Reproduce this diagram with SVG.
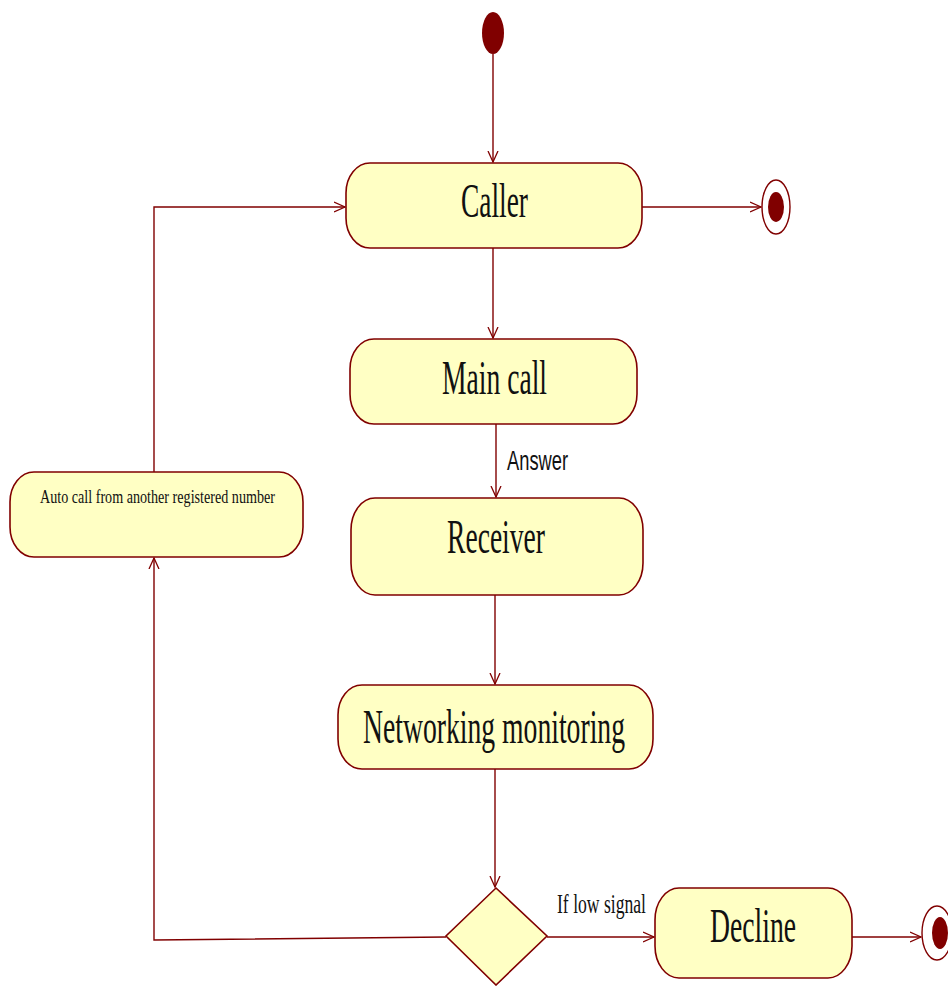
<svg xmlns="http://www.w3.org/2000/svg" width="948" height="986" viewBox="0 0 948 986">
<style>
.node rect, .node polygon { fill: #ffffc4; stroke: #800000; stroke-width: 1.6; }
.lbl { font-family: "Liberation Serif", "Times New Roman", serif; fill: #111; }
.conn { fill: none; stroke: #800000; stroke-width: 1.4; }
.dot { fill: #800000; }
</style>
<defs>
<marker id="arr" viewBox="0 0 12 12" refX="11" refY="6" markerWidth="12" markerHeight="12" markerUnits="userSpaceOnUse" orient="auto">
<path d="M0,1 L11,6 L0,11" fill="none" stroke="#800000" stroke-width="1.3"/>
</marker>
</defs>
<rect width="948" height="986" fill="#ffffff"/>
<g id="connectors">
<path class="conn" d="M493,54 L493,162" marker-end="url(#arr)"/>
<path class="conn" d="M642,207 L761,207" marker-end="url(#arr)"/>
<path class="conn" d="M493,248 L493,338" marker-end="url(#arr)"/>
<path class="conn" d="M496,424 L496,497" marker-end="url(#arr)"/>
<path class="conn" d="M495,595 L495,684" marker-end="url(#arr)"/>
<path class="conn" d="M495,769 L495,887" marker-end="url(#arr)"/>
<path class="conn" d="M547,937 L654,937" marker-end="url(#arr)"/>
<path class="conn" d="M852,937 L921,937" marker-end="url(#arr)"/>
<path class="conn" d="M446,937 L154,940 L154,558" marker-end="url(#arr)"/>
<path class="conn" d="M154,472 L154,207 L345,207" marker-end="url(#arr)"/>
<text class="lbl" x="507" y="470" style="font-family:'Liberation Sans', Arial, sans-serif" font-size="27" textLength="61" lengthAdjust="spacingAndGlyphs">Answer</text>
<text class="lbl" x="557" y="913" font-size="28" textLength="89" lengthAdjust="spacingAndGlyphs">If low signal</text>
</g>
<g id="start">
<ellipse class="dot" cx="493" cy="33" rx="11" ry="21"/>
</g>
<g id="caller" class="node">
<rect x="346" y="163" width="296" height="85" rx="24" ry="30"/>
<text class="lbl" x="461" y="217" font-size="48" textLength="67" lengthAdjust="spacingAndGlyphs">Caller</text>
</g>
<g id="end1">
<ellipse cx="776" cy="207" rx="14" ry="27" fill="#ffffff" stroke="#800000" stroke-width="1.4"/>
<ellipse class="dot" cx="776" cy="207" rx="8" ry="15"/>
</g>
<g id="maincall" class="node">
<rect x="350" y="339" width="287" height="85" rx="24" ry="30"/>
<text class="lbl" x="442" y="394" font-size="48" textLength="105" lengthAdjust="spacingAndGlyphs">Main call</text>
</g>
<g id="receiver" class="node">
<rect x="351" y="498" width="292" height="97" rx="24" ry="32"/>
<text class="lbl" x="447" y="553" font-size="48" textLength="98" lengthAdjust="spacingAndGlyphs">Receiver</text>
</g>
<g id="networking" class="node">
<rect x="338" y="685" width="315" height="84" rx="24" ry="30"/>
<text class="lbl" x="363" y="743" font-size="48" textLength="262" lengthAdjust="spacingAndGlyphs">Networking monitoring</text>
</g>
<g id="autocall" class="node">
<rect x="10" y="472" width="293" height="85" rx="24" ry="30"/>
<text class="lbl" x="40" y="503" font-size="19" textLength="235" lengthAdjust="spacingAndGlyphs">Auto call from another registered number</text>
</g>
<g id="decision" class="node">
<polygon points="496,888 547,936 496,985 446,936"/>
</g>
<g id="decline" class="node">
<rect x="655" y="888" width="197" height="90" rx="24" ry="32"/>
<text class="lbl" x="710" y="942" font-size="48" textLength="86" lengthAdjust="spacingAndGlyphs">Decline</text>
</g>
<g id="end2">
<ellipse cx="937" cy="933" rx="15" ry="27" fill="#ffffff" stroke="#800000" stroke-width="1.4"/>
<ellipse class="dot" cx="940" cy="933" rx="8" ry="16"/>
</g>
</svg>
